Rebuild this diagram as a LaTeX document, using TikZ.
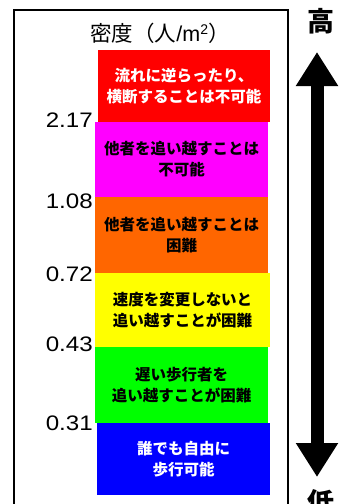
\documentclass[tikz,border=0pt]{standalone}
\usepackage{fontspec}
\setmainfont{Liberation Sans}
\newfontfamily\jp{Noto Sans CJK JP}
\usetikzlibrary{arrows.meta}
\definecolor{cRed}{HTML}{FF0000}
\definecolor{cMag}{HTML}{FF00FF}
\definecolor{cOra}{HTML}{FF6600}
\definecolor{cYel}{HTML}{FFFF00}
\definecolor{cGre}{HTML}{00FF00}
\definecolor{cBlu}{HTML}{0000FF}
\newcommand{\wnum}[1]{\scalebox{1.15}[1]{#1}}
\tikzset{
  band/.style={draw=none, inner sep=0pt, align=center, font=\jp\bfseries\fontsize{15.5}{21}\selectfont},
  val/.style={anchor=east, inner sep=0pt, font=\fontsize{21}{21}\selectfont},
  ends/.style={inner sep=0pt, font=\jp\bfseries\fontsize{27}{27}\selectfont},
  frame/.style={line width=2pt, black},
  bigarrow/.style={line width=13pt, {Triangle[width=40pt,length=34pt]}-{Triangle[width=40pt,length=34pt]}}
}
\begin{document}
\begin{tikzpicture}[x=1pt,y=-1pt]
\useasboundingbox (0,0) rectangle (356,504);
\clip (0,0) rectangle (356,504);
\fill[white] (0,0) rectangle (356,504);
% frame
\draw[frame] (14,510) -- (14,10) -- (288,10) -- (288,510);
% title
\node[inner sep=0pt] (title) at (160,33) {\jp\fontsize{21.5}{21.5}\selectfont 密度（人{\rmfamily/m\raisebox{0.55ex}{\fontsize{14}{14}\selectfont 2}}）};
% bands
\node[band, fill=cRed, text=white, minimum width=172pt, minimum height=72pt] (b1) at (184,86) {流れに逆らったり、\\横断することは不可能};
\node[band, fill=cMag, minimum width=173pt, minimum height=75pt] (b2) at (181.5,159.5) {他者を追い越すことは\\不可能};
\node[band, fill=cOra, minimum width=173pt, minimum height=76pt] (b3) at (181.5,235) {他者を追い越すことは\\困難};
\node[band, fill=cYel, minimum width=175pt, minimum height=74pt] (b4) at (182.5,310) {速度を変更しないと\\追い越すことが困難};
\node[band, fill=cGre, minimum width=173pt, minimum height=76pt] (b5) at (181.5,385) {遅い歩行者を\\追い越すことが困難};
\node[band, fill=cBlu, text=white, minimum width=173pt, minimum height=72pt] (b6) at (183.5,459) {誰でも自由に\\歩行可能};
% values
\node[val] (v1) at (93,120) {\wnum{2.17}};
\node[val] (v2) at (93,201) {\wnum{1.08}};
\node[val] (v3) at (93,274) {\wnum{0.72}};
\node[val] (v4) at (93,344) {\wnum{0.43}};
\node[val] (v5) at (93,423) {\wnum{0.31}};
% arrow
\coordinate (atop) at (317,52);
\coordinate (abot) at (317,477);
\draw[bigarrow] (abot) -- (atop);
\node[ends] (hi) at (321,21) {高};
\node[ends] (lo) at (321,502) {低};
\end{tikzpicture}
\end{document}
